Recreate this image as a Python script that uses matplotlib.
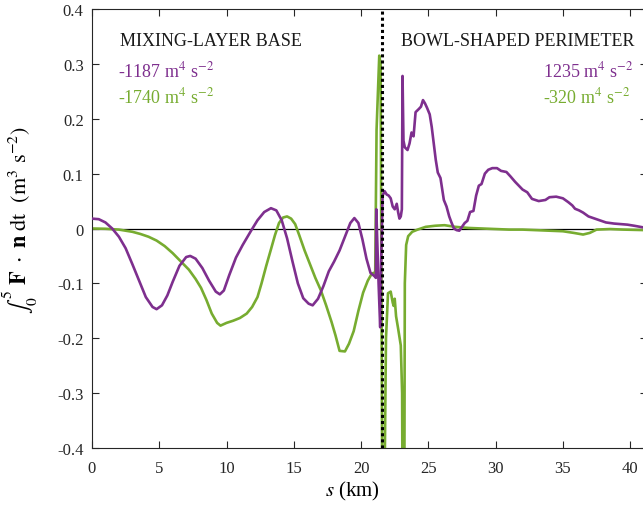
import matplotlib
matplotlib.use("Agg")
import matplotlib.pyplot as plt
from matplotlib.ticker import FuncFormatter

plt.rcParams['font.family'] = ['Liberation Serif', 'DejaVu Serif']
plt.rcParams['mathtext.fontset'] = 'stix'

purple_s = [0, 0.5, 1.0, 1.5, 2.0, 2.5, 3.0, 3.5, 4.0, 4.5, 4.8, 5.2, 5.6, 6.0, 6.5, 7.0, 7.3, 7.7,
            8.2, 8.7, 9.2, 9.5, 9.8, 10.2, 10.7, 11.2, 11.8, 12.3, 12.8, 13.3, 13.7, 14.1, 14.5,
            14.9, 15.3, 15.7, 16.1, 16.4, 16.8, 17.2, 17.6, 18.0, 18.4, 18.8, 19.2, 19.5, 19.8,
            20.1, 20.4, 20.7, 21.0, 21.1, 21.13, 21.2, 21.3, 21.42, 21.5, 21.6, 21.75, 21.9,
            22.05, 22.2, 22.35, 22.5, 22.65, 22.75, 22.85, 22.95, 23.03, 23.08, 23.15, 23.25,
            23.45, 23.6, 23.75, 23.9, 24.05, 24.3, 24.45, 24.6, 24.75, 24.9, 25.1, 25.25, 25.4,
            25.55, 25.7, 25.9, 26.05, 26.15, 26.35, 26.55, 26.7, 26.9, 27.1, 27.3, 27.5, 27.7,
            27.9, 28.1, 28.35, 28.55, 28.75, 28.95, 29.2, 29.45, 29.75, 30.1, 30.4, 30.8, 31.1,
            31.45, 31.8, 32.0, 32.35, 32.7, 33.2, 33.7, 34.0, 34.5, 35.0, 35.4, 35.7, 35.9, 36.2,
            36.5, 36.9, 37.5, 38.2, 38.8, 39.3, 39.8, 40.3, 41.2]
purple_v = [0.018, 0.017, 0.011, 0.000, -0.015, -0.036, -0.065, -0.095, -0.125, -0.143, -0.147,
            -0.140, -0.122, -0.097, -0.068, -0.052, -0.050, -0.055, -0.072, -0.095, -0.115,
            -0.120, -0.113, -0.085, -0.053, -0.030, -0.005, 0.015, 0.030, 0.037, 0.033, 0.015,
            -0.018, -0.060, -0.100, -0.127, -0.137, -0.140, -0.128, -0.105, -0.078, -0.060,
            -0.040, -0.015, 0.010, 0.019, 0.010, -0.020, -0.055, -0.081, -0.087, -0.090, 0.035,
            -0.020, -0.100, -0.180, -0.050, 0.060, 0.068, 0.062, 0.060, 0.055, 0.040, 0.035,
            0.045, 0.030, 0.018, 0.022, 0.035, 0.278, 0.160, 0.148, 0.143, 0.155, 0.175, 0.168,
            0.212, 0.218, 0.222, 0.234, 0.228, 0.220, 0.208, 0.185, 0.155, 0.125, 0.102, 0.092,
            0.068, 0.052, 0.040, 0.022, 0.012, 0.000, -0.003, -0.004, 0.003, 0.010, 0.014,
            0.030, 0.032, 0.060, 0.078, 0.081, 0.100, 0.107, 0.110, 0.110, 0.105, 0.103, 0.095,
            0.085, 0.076, 0.071, 0.066, 0.054, 0.050, 0.052, 0.057, 0.058, 0.055, 0.048, 0.042,
            0.036, 0.033, 0.029, 0.022, 0.017, 0.011, 0.009, 0.008, 0.007, 0.005, 0.001]

green_s = [0, 1.0, 2.0, 3.0, 3.6, 4.2, 4.8, 5.4, 6.0, 6.6, 7.2, 7.7, 8.1, 8.5, 8.9, 9.3, 9.55,
           10.0, 10.5, 11.0, 11.5, 11.9, 12.3, 12.6, 12.95, 13.3, 13.6, 13.9, 14.2, 14.5, 14.8,
           15.1, 15.4, 15.8, 16.2, 16.6, 17.0, 17.4, 17.8, 18.1, 18.4, 18.8, 19.1, 19.45, 19.8,
           20.15, 20.5, 20.8, 21.05, 21.15, 21.35, 21.45, 21.6, 21.75, 21.85, 22.0, 22.2, 22.35,
           22.42, 22.5, 22.6, 22.75, 22.95, 23.05, 23.1, 23.2, 23.25, 23.35, 23.5, 23.8, 24.2,
           24.8, 25.5, 26.2, 27.0, 28.0, 29.0, 30.0, 31.0, 32.0, 33.0, 34.0, 35.0, 35.8, 36.5,
           37.0, 37.5, 38.5, 39.5, 41.2]
green_v = [0.0, -0.0005, -0.002, -0.006, -0.010, -0.015, -0.022, -0.032, -0.045, -0.060, -0.075,
           -0.092, -0.108, -0.130, -0.155, -0.172, -0.177, -0.172, -0.168, -0.163, -0.155,
           -0.143, -0.125, -0.100, -0.068, -0.038, -0.012, 0.010, 0.020, 0.022, 0.018, 0.008,
           -0.012, -0.040, -0.065, -0.090, -0.112, -0.140, -0.170, -0.195, -0.223, -0.224,
           -0.210, -0.187, -0.150, -0.117, -0.095, -0.082, -0.080, 0.180, 0.315, 0.300, -0.650,
           -0.450, -0.200, -0.118, -0.115, -0.135, -0.141, -0.128, -0.160, -0.182, -0.213,
           -0.300, -0.650, -0.650, -0.100, -0.030, -0.014, -0.006, -0.002, 0.003, 0.005, 0.006,
           0.003, 0.001, 0.000, -0.001, -0.002, -0.002, -0.003, -0.004, -0.005, -0.008, -0.011,
           -0.008, -0.002, -0.001, -0.002, -0.003]

divider_s = 21.56
x_ticks = [0, 5, 10, 15, 20, 25, 30, 35, 40]
y_ticks = [-0.4, -0.3, -0.2, -0.1, 0, 0.1, 0.2, 0.3, 0.4]

PURPLE = '#7E2F8E'
GREEN = '#77AC30'

fig = plt.figure(figsize=(6.43, 5.06), dpi=100)
W, H = 643, 506
ax = fig.add_axes([92 / W, 57 / H, 555 / W, 439 / H])

ax.axhline(0, color='black', lw=0.9, zorder=1)
ax.plot(green_s, green_v, color=GREEN, lw=1.9, zorder=2)
ax.plot(purple_s, purple_v, color=PURPLE, lw=1.9, zorder=3)
ax.axvline(divider_s, color='black', lw=2.2, ls=(0, (1, 1)), zorder=4)

ax.set_xlim(0, 41.25)
ax.set_ylim(-0.4, 0.4)
ax.set_xticks(x_ticks)
ax.set_yticks(y_ticks)
ax.yaxis.set_major_formatter(FuncFormatter(lambda v, p: ('%g' % round(v, 2)).replace('\u2212', '-')))
ax.xaxis.set_major_formatter(FuncFormatter(lambda v, p: '%g' % v))
ax.tick_params(direction='in', length=5, width=0.8, colors='#262626', labelsize=12,
               top=True, right=True)
ax.tick_params(axis='y', pad=6)
ax.tick_params(axis='x', pad=9)
for sp in ax.spines.values():
    sp.set_color('#262626')
    sp.set_linewidth(0.8)

ax.set_xlabel(r'$\it{s}$ (km)', fontsize=15)
ax.xaxis.set_label_coords((352 - 92) / 555, -0.07)
ax.set_ylabel(r'$\int_0^5\ \mathbf{F}\ \cdot\ \mathbf{n}\ \mathrm{dt}\ \ (\mathrm{m}^3\ \mathrm{s}^{-2})$',
              fontsize=16)
ax.yaxis.set_label_coords((40 - 92) / 555, (506 - 220 - 57) / 439)

fs = 13
ax.text(2.08, 0.335, 'MIXING-LAYER BASE', fontsize=fs, color='#1a1a1a', ha='left', va='baseline')
ax.text(1.9, 0.277, '-1187 m$^4$ s$^{-2}$', fontsize=fs, color=PURPLE, ha='left', va='baseline')
ax.text(1.9, 0.230, '-1740 m$^4$ s$^{-2}$', fontsize=fs, color=GREEN, ha='left', va='baseline')
ax.text(23.0, 0.335, 'BOWL-SHAPED PERIMETER', fontsize=fs, color='#1a1a1a', ha='left', va='baseline')
ax.text(40.2, 0.277, '1235 m$^4$ s$^{-2}$', fontsize=fs, color=PURPLE, ha='right', va='baseline')
ax.text(40.0, 0.230, '-320 m$^4$ s$^{-2}$', fontsize=fs, color=GREEN, ha='right', va='baseline')

fig.savefig('out.png', dpi=100)
